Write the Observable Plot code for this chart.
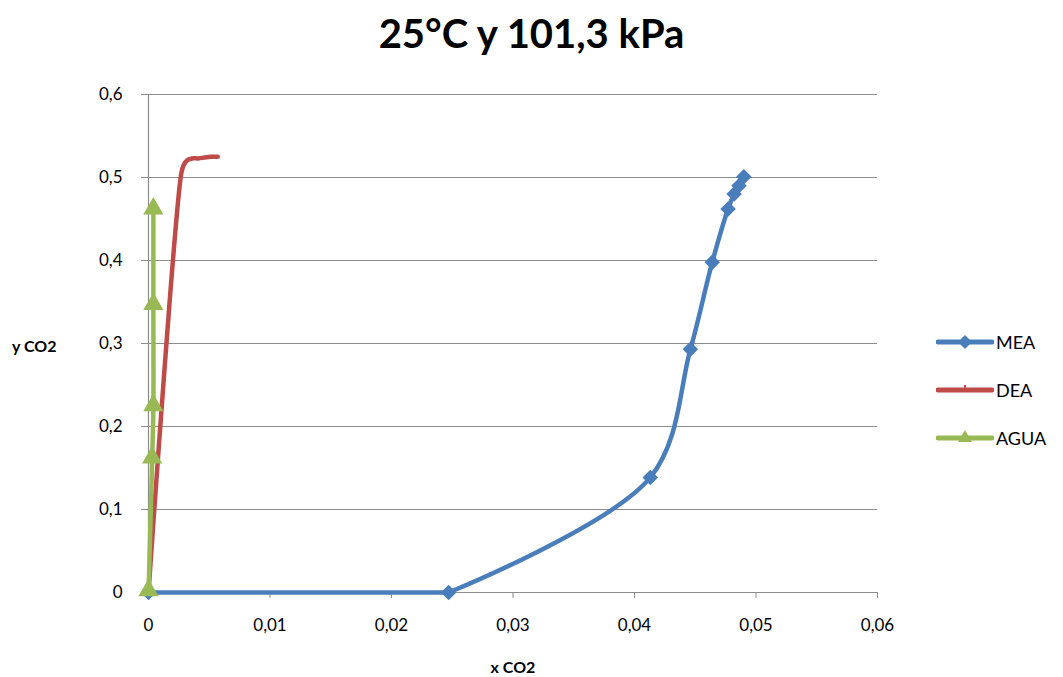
<!DOCTYPE html>
<html>
<head>
<meta charset="utf-8">
<script src="https://cdn.jsdelivr.net/npm/d3@7"></script>
<script src="https://cdn.jsdelivr.net/npm/@observablehq/plot@0.6"></script>
<style>
  body { margin: 0; background: #fff; font-family: Lato, "Open Sans", sans-serif; }
  #wrap { position: relative; width: 1063px; height: 677px; }
  #title { position: absolute; left: 0; top: 9px; width: 1063px; text-align: center; font-size: 40px; font-weight: bold; color: #000; }
  #chart { position: absolute; left: 0; top: 70px; }
  #legend { position: absolute; left: 936px; top: 318px; font-size: 18px; color: #000; }
  .item { display: flex; align-items: center; height: 48px; }
  .item svg { margin-right: 2px; }
  #ylab { position: absolute; left: 12px; top: 336px; font-size: 16px; font-weight: bold; }
</style>
</head>
<body>
<div id="wrap">
  <div id="title">25°C y 101,3 kPa</div>
  <div id="chart"></div>
  <div id="ylab">y CO2</div>
  <div id="legend"></div>
</div>
<script>
const seriesNames = ["MEA", "DEA", "AGUA"];
const seriesColors = ["#4a7ebb", "#be4b48", "#98b954"];

const meaX = [0, 0.0247, 0.0413, 0.0446, 0.0464, 0.0477, 0.0482, 0.0486, 0.0490];
const meaY = [0, 0, 0.1386, 0.293, 0.398, 0.462, 0.480, 0.490, 0.501];

const deaX = [0, 0.0027, 0.0029, 0.0032, 0.0036, 0.0041, 0.0046, 0.0051, 0.0057];
const deaY = [0, 0.505, 0.515, 0.521, 0.523, 0.523, 0.524, 0.525, 0.525];

const aguaX = [0, 0.0003, 0.0004, 0.0004, 0.0004];
const aguaY = [0, 0.16, 0.223, 0.345, 0.46];

const xTicks = [0, 0.01, 0.02, 0.03, 0.04, 0.05, 0.06];
const yTicks = [0, 0.1, 0.2, 0.3, 0.4, 0.5, 0.6];

const mea = meaX.map((x, i) => ({x, y: meaY[i]}));
const meaFlat = mea.slice(0, 2);
const meaRise = mea.slice(1);
const dea = deaX.map((x, i) => ({x, y: deaY[i]}));
const agua = aguaX.map((x, i) => ({x, y: aguaY[i]}));

const fmt = d => String(d).replace(".", ",");

const plot = Plot.plot({
  width: 1063,
  height: 607,
  marginLeft: 148,
  marginRight: 186,
  marginTop: 24,
  marginBottom: 85,
  style: { fontFamily: "Lato, 'Open Sans', sans-serif", fontSize: "16px", color: "#000", background: "#fff" },
  x: { domain: [0, 0.06] },
  y: { domain: [0, 0.6] },
  marks: [
    Plot.gridY(yTicks, { stroke: "#8c8c8c", strokeOpacity: 1, strokeWidth: 1.2 }),
    Plot.axisY(yTicks, { tickFormat: fmt, tickSize: 7, stroke: "#8c8c8c", tickPadding: 19, fontSize: 17, label: null }),
    Plot.axisX(xTicks, { tickFormat: fmt, tickSize: 6, stroke: "#8c8c8c", tickPadding: 20, fontSize: 17, label: null }),
    Plot.ruleX([0], { stroke: "#8c8c8c", strokeWidth: 1.2 }),
    Plot.ruleY([0], { stroke: "#8c8c8c", strokeWidth: 1.2 }),
    Plot.text(["x CO2"], { frameAnchor: "bottom", dy: 80, fontWeight: "bold", fontSize: 16 }),
    Plot.line(meaFlat, { x: "x", y: "y", stroke: seriesColors[0], strokeWidth: 4.5 }),
    Plot.line(meaRise, { x: "x", y: "y", stroke: seriesColors[0], strokeWidth: 4.5, curve: "catmull-rom" }),
    Plot.dot(mea, { x: "x", y: "y", symbol: "diamond2", r: 7, fill: seriesColors[0] }),
    Plot.line(dea, { x: "x", y: "y", stroke: seriesColors[1], strokeWidth: 4.5, curve: "catmull-rom" }),
    Plot.line(agua, { x: "x", y: "y", stroke: seriesColors[2], strokeWidth: 4.5, curve: "catmull-rom" }),
    Plot.dot(agua, { x: "x", y: "y", symbol: "triangle", r: 7.5, fill: seriesColors[2], dy: -2 })
  ]
});
document.getElementById("chart").appendChild(plot);

const legend = document.getElementById("legend");
seriesNames.forEach((name, i) => {
  const c = seriesColors[i];
  let marker = "";
  if (i === 0) marker = `<path d="M29,4 L36,11 L29,18 L22,11 Z" fill="${c}"/>`;
  if (i === 1) marker = `<rect x="28" y="6" width="2" height="5" fill="${c}"/>`;
  if (i === 2) marker = `<path d="M29,3 L36,15 L22,15 Z" fill="${c}"/>`;
  const item = document.createElement("div");
  item.className = "item";
  item.innerHTML = `<svg width="58" height="22"><line x1="2" y1="11" x2="56" y2="11" stroke="${c}" stroke-width="5" stroke-linecap="round"/>${marker}</svg><span>${name}</span>`;
  legend.appendChild(item);
});
</script>
</body>
</html>
